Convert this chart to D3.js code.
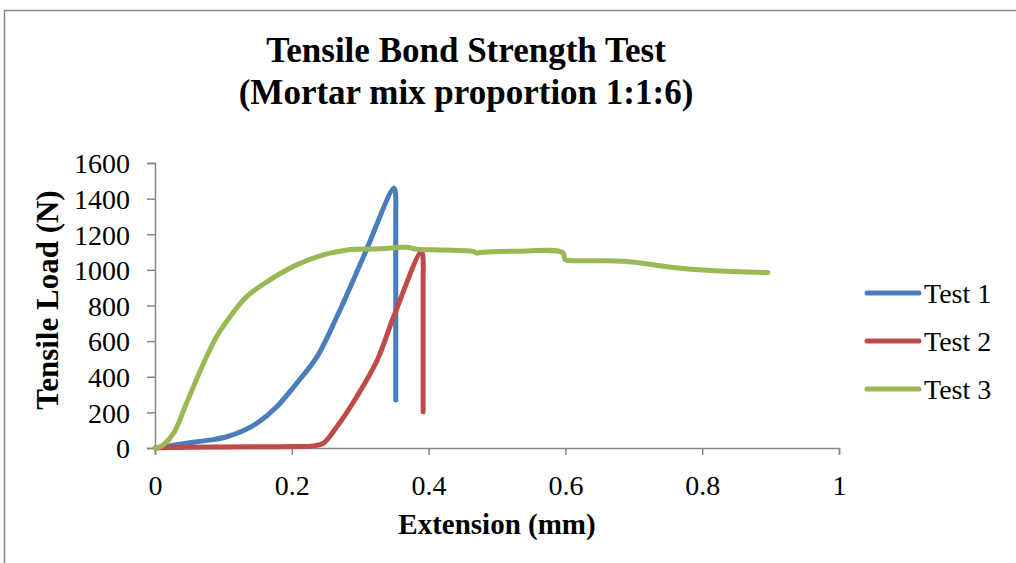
<!DOCTYPE html>
<html>
<head>
<meta charset="utf-8">
<script src="https://cdn.jsdelivr.net/npm/d3@7"></script>
<style>
  body { margin: 0; background: #fff; }
  text { font-family: "Liberation Serif", "Times New Roman", serif; fill: #000; }
</style>
</head>
<body>
<div id="chart"></div>
<script>
// Extension (mm) and load (N) for each test
var test1Ext  = [0, 0.02, 0.061, 0.085, 0.105, 0.128, 0.149, 0.178, 0.207, 0.237, 0.266, 0.305, 0.349, 0.351, 0.352, 0.352, 0.352];
var test1Load = [0, 12, 35, 47, 63, 95, 139, 232, 363, 513, 738, 1075, 1459, 1445, 1410, 1300, 270];

var test2Ext  = [0, 0.02, 0.1, 0.2, 0.232, 0.246, 0.266, 0.295, 0.325, 0.349, 0.389, 0.391, 0.392, 0.392, 0.392];
var test2Load = [0, 3, 6, 8, 12, 26, 120, 288, 494, 738, 1103, 1090, 1060, 950, 204];

var test3Ext  = [0, 0.006, 0.012, 0.027, 0.046, 0.071, 0.090, 0.110, 0.134, 0.168, 0.207, 0.246, 0.281,
                 0.329, 0.368, 0.383, 0.422, 0.466, 0.470, 0.476, 0.530, 0.596, 0.599, 0.602, 0.640, 0.690, 0.754, 0.813, 0.896];
var test3Load = [0, 5, 17, 82, 251, 476, 625, 738, 850, 944, 1028, 1084, 1112,
                 1118, 1127, 1116, 1112, 1103, 1094, 1098, 1105, 1097, 1060, 1054, 1051, 1047, 1015, 996, 985];

var seriesNames = ["Test 1", "Test 2", "Test 3"];
var seriesColors = ["#4a7ebb", "#be4b48", "#98b954"];
var xTicks = [0, 0.2, 0.4, 0.6, 0.8, 1];
var yTicks = [0, 200, 400, 600, 800, 1000, 1200, 1400, 1600];

function init() {
    var W = 1016, H = 563;
    var svg = d3.select("#chart").append("svg")
        .attr("width", W)
        .attr("height", H);

    // chart border
    svg.append("rect")
        .attr("x", 4.5).attr("y", 10.5)
        .attr("width", W + 10).attr("height", H + 10)
        .attr("fill", "none")
        .attr("stroke", "#868686")
        .attr("stroke-width", 1.5);

    var xScale = d3.scaleLinear().domain([0, 1]).range([155, 839]);
    var yScale = d3.scaleLinear().domain([0, 1600]).range([448, 163]);

    // axes
    var xAxis = d3.axisBottom(xScale).tickValues(xTicks).tickSize(7).tickPadding(20)
        .tickFormat(function(d) { return d; });
    var gx = svg.append("g")
        .attr("transform", "translate(0," + yScale(0) + ")")
        .call(xAxis);
    var yAxis = d3.axisLeft(yScale).tickValues(yTicks).tickSize(8).tickPadding(17)
        .tickFormat(d3.format("d"));
    var gy = svg.append("g")
        .attr("transform", "translate(" + xScale(0) + ",0)")
        .call(yAxis);

    [gx, gy].forEach(function(g) {
        g.select(".domain").attr("stroke", "#868686").attr("stroke-width", 1.5);
        g.selectAll(".tick line").attr("stroke", "#868686").attr("stroke-width", 1.5);
        g.selectAll(".tick text")
            .style("font-family", "Liberation Serif")
            .style("font-size", "28px")
            .attr("fill", "#000");
    });
    gy.selectAll(".tick text").attr("dy", "0.35em");

    // lines
    var data = [
        d3.zip(test1Ext, test1Load),
        d3.zip(test2Ext, test2Load),
        d3.zip(test3Ext, test3Load)
    ];
    var line = d3.line()
        .x(function(d) { return xScale(d[0]); })
        .y(function(d) { return yScale(d[1]); })
        .curve(d3.curveCatmullRom.alpha(0.5));

    data.forEach(function(s, i) {
        svg.append("path")
            .datum(s)
            .attr("d", line)
            .attr("fill", "none")
            .attr("stroke", seriesColors[i])
            .attr("stroke-width", 5)
            .attr("stroke-linejoin", "round")
            .attr("stroke-linecap", "round");
    });

    // title
    var title = svg.append("text")
        .attr("text-anchor", "middle")
        .style("font-size", "35px")
        .style("font-weight", "bold");
    title.append("tspan").attr("x", 466).attr("y", 62).text("Tensile Bond Strength Test");
    title.append("tspan").attr("x", 466).attr("y", 104).text("(Mortar mix proportion 1:1:6)");

    // axis titles
    svg.append("text")
        .attr("x", 497).attr("y", 534)
        .attr("text-anchor", "middle")
        .style("font-size", "29px")
        .style("font-weight", "bold")
        .text("Extension (mm)");

    svg.append("text")
        .attr("transform", "translate(58,300) rotate(-90)")
        .attr("text-anchor", "middle")
        .style("font-size", "31px")
        .style("font-weight", "bold")
        .text("Tensile Load (N)");

    // legend
    var legend = svg.append("g");
    seriesNames.forEach(function(name, i) {
        var y = 293 + i * 48;
        legend.append("line")
            .attr("x1", 867).attr("x2", 919)
            .attr("y1", y).attr("y2", y)
            .attr("stroke", seriesColors[i])
            .attr("stroke-width", 5)
            .attr("stroke-linecap", "round");
        legend.append("text")
            .attr("x", 924).attr("y", y + 10)
            .style("font-size", "28px")
            .text(name);
    });
}

window.onload = init;
</script>
</body>
</html>
